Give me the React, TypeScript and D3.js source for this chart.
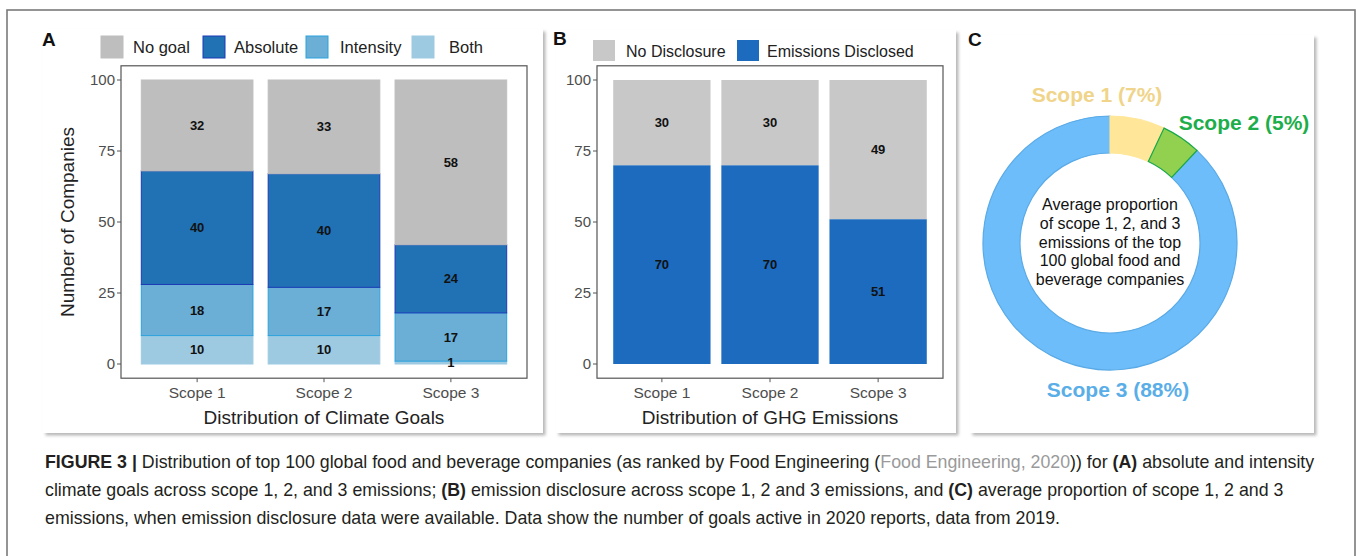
import * as d3 from 'd3'
import React from 'react'

// panel A: climate goals per scope (number of companies)
const scopes = ['Scope 1', 'Scope 2', 'Scope 3']
const goalNone = [32, 33, 58]
const goalAbsolute = [40, 40, 24]
const goalIntensity = [18, 17, 17]
const goalBoth = [10, 10, 1]

// panel B: emissions disclosure
const noDisclosure = [30, 30, 49]
const disclosed = [70, 70, 51]

// panel C: average share of emissions
const shareNames = ['Scope 1', 'Scope 2', 'Scope 3']
const shares = [7, 5, 88]

const yTicks = [0, 25, 50, 75, 100]

const FONT = '"Liberation Sans", Arial, sans-serif'

const goalKeys = ['both', 'intensity', 'absolute', 'none']
const goalFill: any = { none: '#bebebe', absolute: '#2171b5', intensity: '#6baed6', both: '#9ecae1' }
const goalStroke: any = { none: '#bebebe', absolute: '#1c3bb5', intensity: '#2ba3de', both: '#9ecae1' }

const discKeys = ['disclosed', 'none']
const discFill: any = { none: '#c8c8c8', disclosed: '#1c6bbf' }

const pieFill = ['#ffe699', '#92d050', '#6ebdfb']
const pieStroke = ['#ffe699', '#16a84a', '#5aaae6']
const pieLabelColor = ['#f0d48a', '#1dae4b', '#5aaee8']

function Axes({ x, y, left, right, top, bottom, title }: any) {
  return (
    <g fontFamily={FONT}>
      <rect x={left} y={top} width={right - left} height={bottom - top} fill="none" stroke="#555" strokeWidth={1.2} />
      {yTicks.map(t => (
        <g key={t} transform={`translate(${left},${y(t)})`}>
          <line x1={-4} x2={0} stroke="#555" />
          <text x={-6} dy="0.35em" textAnchor="end" fontSize={15} fill="#4d4d4d">{t}</text>
        </g>
      ))}
      {scopes.map(s => (
        <g key={s} transform={`translate(${x(s) + x.bandwidth() / 2},${bottom})`}>
          <line y1={0} y2={4} stroke="#555" />
          <text y={20} textAnchor="middle" fontSize={15.5} fill="#4d4d4d">{s}</text>
        </g>
      ))}
      <text x={(left + right) / 2} y={bottom + 46} textAnchor="middle" fontSize={19} fill="#222">{title}</text>
    </g>
  )
}

export default function App() {
  const y = d3.scaleLinear().domain([0, 100]).range([364, 80])

  // panel A
  const aLeft = 121, aRight = 527
  const xA = d3.scaleBand<string>().domain(scopes).range([aLeft, aRight]).paddingInner(0.12).paddingOuter(0.16)
  const goalRows = scopes.map((s, i) => ({
    scope: s, both: goalBoth[i], intensity: goalIntensity[i], absolute: goalAbsolute[i], none: goalNone[i],
  }))
  const goalStack = d3.stack<any>().keys(goalKeys)(goalRows)

  // panel B
  const bLeft = 597, bRight = 943
  const xB = d3.scaleBand<string>().domain(scopes).range([bLeft, bRight]).paddingInner(0.1).paddingOuter(0.15)
  const discRows = scopes.map((s, i) => ({ scope: s, disclosed: disclosed[i], none: noDisclosure[i] }))
  const discStack = d3.stack<any>().keys(discKeys)(discRows)

  const top = y(105), bottom = y(-5)

  // panel C
  const cx = 1110, cy = 243
  const pie = d3.pie<number>().sort(null)(shares)
  const arc = d3.arc<any>().innerRadius(90).outerRadius(127)

  const legendA = [
    { key: 'none', label: 'No goal', x: 101, tx: 133 },
    { key: 'absolute', label: 'Absolute', x: 203, tx: 234 },
    { key: 'intensity', label: 'Intensity', x: 306, tx: 340 },
    { key: 'both', label: 'Both', x: 412, tx: 449 },
  ]
  const legendB = [
    { key: 'none', label: 'No Disclosure', x: 593, tx: 626 },
    { key: 'disclosed', label: 'Emissions Disclosed', x: 737, tx: 767 },
  ]

  const centerLines = [
    'Average proportion',
    'of scope 1, 2, and 3',
    'emissions of the top',
    '100 global food and',
    'beverage companies',
  ]
  const labelPos = [
    { x: 1097, y: 95 },
    { x: 1244, y: 123 },
    { x: 1118, y: 390 },
  ]

  return (
    <svg width={1357} height={556} style={{ position: 'absolute', left: 0, top: 0 }} fontFamily={FONT}>
      <defs>
        <filter id="shadow" x="-5%" y="-5%" width="110%" height="110%">
          <feDropShadow dx={2.5} dy={2.5} stdDeviation={1.8} floodColor="#000" floodOpacity={0.28} />
        </filter>
      </defs>
      <rect width={1357} height={556} fill="#fff" />
      <rect x={7} y={10} width={1348} height={600} fill="none" stroke="#7a7a7a" strokeWidth={1.6} />

      {/* cards */}
      <rect x={43} y={29} width={500} height={404} fill="#fff" filter="url(#shadow)" />
      <rect x={556} y={30} width={400} height={403} fill="#fff" filter="url(#shadow)" />
      <rect x={970} y={35} width={344} height={398} fill="#fff" filter="url(#shadow)" />

      {/* panel A */}
      <text x={42} y={46} fontSize={19} fontWeight="bold" fill="#111">A</text>
      {legendA.map(l => (
        <g key={l.key}>
          <rect x={l.x} y={36} width={22} height={22} fill={goalFill[l.key]} stroke={goalStroke[l.key]} />
          <text x={l.tx} y={53} fontSize={16.5} fill="#222">{l.label}</text>
        </g>
      ))}
      {goalStack.map(layer => (
        <g key={layer.key}>
          {layer.map((d: any) => (
            <rect key={d.data.scope}
              x={xA(d.data.scope)} width={xA.bandwidth()}
              y={y(d[1])} height={y(d[0]) - y(d[1])}
              fill={goalFill[layer.key]} stroke={goalStroke[layer.key]} strokeWidth={1} />
          ))}
        </g>
      ))}
      {goalStack.map(layer => layer.map((d: any) => (
        <text key={layer.key + d.data.scope}
          x={xA(d.data.scope)! + xA.bandwidth() / 2} y={y((d[0] + d[1]) / 2)} dy="0.35em"
          textAnchor="middle" fontSize={13} fontWeight="bold" fill="#111">{d[1] - d[0]}</text>
      )))}
      <Axes x={xA} y={y} left={aLeft} right={aRight} top={top} bottom={bottom} title="Distribution of Climate Goals" />
      <text transform={`translate(74,222) rotate(-90)`} textAnchor="middle" fontSize={19} fill="#222">Number of Companies</text>

      {/* panel B */}
      <text x={553} y={45} fontSize={19} fontWeight="bold" fill="#111">B</text>
      {legendB.map(l => (
        <g key={l.key}>
          <rect x={l.x} y={40} width={22} height={21} fill={discFill[l.key]} />
          <text x={l.tx} y={57} fontSize={16} fill="#222">{l.label}</text>
        </g>
      ))}
      {discStack.map(layer => (
        <g key={layer.key}>
          {layer.map((d: any) => (
            <rect key={d.data.scope}
              x={xB(d.data.scope)} width={xB.bandwidth()}
              y={y(d[1])} height={y(d[0]) - y(d[1])}
              fill={discFill[layer.key]} />
          ))}
        </g>
      ))}
      {discStack.map(layer => layer.map((d: any) => (
        <text key={layer.key + d.data.scope}
          x={xB(d.data.scope)! + xB.bandwidth() / 2} y={y((d[0] + d[1]) / 2)} dy="0.35em"
          textAnchor="middle" fontSize={13} fontWeight="bold" fill="#111">{d[1] - d[0]}</text>
      )))}
      <Axes x={xB} y={y} left={bLeft} right={bRight} top={top} bottom={bottom} title="Distribution of GHG Emissions" />

      {/* panel C */}
      <text x={968} y={46} fontSize={19} fontWeight="bold" fill="#111">C</text>
      <g transform={`translate(${cx},${cy})`}>
        {[2, 0, 1].map(i => (
          <path key={i} d={arc(pie[i])!} fill={pieFill[i]} stroke={pieStroke[i]} strokeWidth={1.2} />
        ))}
        {centerLines.map((t, i) => (
          <text key={i} y={(i - 2) * 18.8 - 1} dy="0.35em" textAnchor="middle" fontSize={16} fill="#111">{t}</text>
        ))}
      </g>
      {shareNames.map((n, i) => (
        <text key={n} x={labelPos[i].x} y={labelPos[i].y} dy="0.35em" textAnchor="middle"
          fontSize={21} fontWeight="bold" fill={pieLabelColor[i]}>{`${n} (${shares[i]}%)`}</text>
      ))}

      {/* caption */}
      <g fontSize={17.8} fill="#231f20">
        <text x={45} y={468}>
          <tspan fontWeight="bold">FIGURE 3 | </tspan>
          <tspan>Distribution of top 100 global food and beverage companies (as ranked by Food Engineering (</tspan>
          <tspan fill="#9a9a9a">Food Engineering, 2020</tspan>
          <tspan>)) for </tspan>
          <tspan fontWeight="bold">(A)</tspan>
          <tspan> absolute and intensity</tspan>
        </text>
        <text x={45} y={496}>
          <tspan>climate goals across scope 1, 2, and 3 emissions; </tspan>
          <tspan fontWeight="bold">(B)</tspan>
          <tspan> emission disclosure across scope 1, 2 and 3 emissions, and </tspan>
          <tspan fontWeight="bold">(C)</tspan>
          <tspan> average proportion of scope 1, 2 and 3</tspan>
        </text>
        <text x={45} y={524}>
          emissions, when emission disclosure data were available. Data show the number of goals active in 2020 reports, data from 2019.
        </text>
      </g>
    </svg>
  )
}
